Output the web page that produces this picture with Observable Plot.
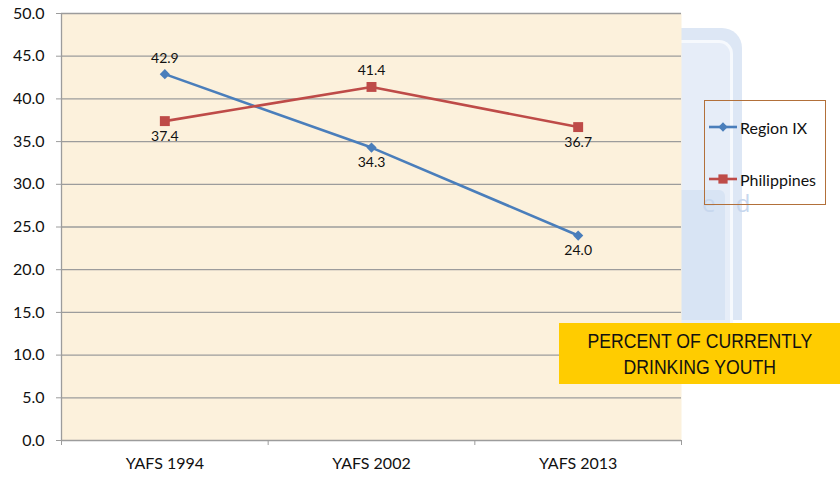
<!DOCTYPE html>
<html><head><meta charset="utf-8">
<script src="https://cdn.jsdelivr.net/npm/d3@7"></script>
<script src="https://cdn.jsdelivr.net/npm/@observablehq/plot@0.6"></script>
<style>
html,body{margin:0;padding:0;background:#fff;}
#wrap{position:relative;width:840px;height:477px;overflow:hidden;font-family:Lato,"Open Sans",sans-serif;}
#chart{position:absolute;left:0;top:0;z-index:1;}
.wm{position:absolute;left:670px;top:28px;width:72px;height:292px;background:#dde7f5;border-radius:0 20px 0 0;z-index:0;}
.wm-inner{position:absolute;left:670px;top:40px;width:60px;height:280px;border-right:3px solid #f6f9fd;border-top:3px solid #f6f9fd;border-radius:0 14px 0 0;background:#e6edf8;z-index:0;}
.wm-low{position:absolute;left:670px;top:190px;width:55px;height:130px;background:#d8e4f4;border-radius:0 6px 0 0;z-index:0;}
.wm-text{position:absolute;left:702px;top:186px;font:24px "Open Sans",sans-serif;color:#c7d7ee;letter-spacing:7px;z-index:0;}
.legend{position:absolute;left:704px;top:100px;width:120px;height:103px;border:1px solid #b2703a;z-index:2;}
.legend .item{position:absolute;left:4px;display:flex;align-items:center;font-size:16px;color:#111;}
.legend .item svg{margin-right:3px;}
.banner{position:absolute;left:559px;top:323px;width:281px;height:61px;background:#ffcc00;z-index:3;display:flex;align-items:center;justify-content:center;text-align:center;font-family:"Liberation Sans Narrow","Arial Narrow","Liberation Sans",Arial,sans-serif;font-size:21px;line-height:26px;color:#111;}
.banner span{display:inline-block;transform:scaleX(0.84);white-space:nowrap;}
</style></head><body>
<div id="wrap">
  <div class="wm"></div>
  <div class="wm-inner"></div>
  <div class="wm-low"></div>
  <div class="wm-text">e d</div>
  <div id="chart"></div>
  <div class="legend" id="legend"></div>
  <div class="banner"><span>PERCENT OF CURRENTLY<br>DRINKING YOUTH</span></div>
</div>
<script>
const surveys = ["YAFS 1994", "YAFS 2002", "YAFS 2013"];
const seriesNames = ["Region IX", "Philippines"];
const regionIX = [42.9, 34.3, 24.0];
const philippines = [37.4, 41.4, 36.7];
const regionIXLabelSide = ["above", "below", "below"];
const philippinesLabelSide = ["below", "above", "below"];
const yTicks = [0, 5, 10, 15, 20, 25, 30, 35, 40, 45, 50];
const colors = ["#4a7ebb", "#be4b48"];

const rows = [];
surveys.forEach((s, i) => {
  rows.push({i, series: seriesNames[0], value: regionIX[i], side: regionIXLabelSide[i]});
  rows.push({i, series: seriesNames[1], value: philippines[i], side: philippinesLabelSide[i]});
});
const boundaries = d3.range(surveys.length + 1).map(k => k - 0.5);

const chart = Plot.plot({
  width: 840,
  height: 477,
  marginLeft: 61,
  marginRight: 159,
  marginTop: 13,
  marginBottom: 37,
  style: {background: "transparent", fontFamily: "Lato, 'Open Sans', sans-serif", color: "#111"},
  x: {type: "linear", domain: [-0.5, surveys.length - 0.5], label: null},
  y: {domain: [0, 50], label: null},
  color: {domain: seriesNames, range: colors},
  marks: [
    Plot.frame({fill: "#fcf1dc", stroke: null}),
    Plot.ruleY(yTicks, {stroke: "#9c9c9c", strokeWidth: 1.3, strokeOpacity: 1}),
    Plot.ruleX([boundaries[0]], {stroke: "#9c9c9c", strokeWidth: 1.3}),
    Plot.axisY({ticks: yTicks, tickFormat: d => d.toFixed(1), tickSize: 5, tickPadding: 12, fontSize: 16, stroke: "#9c9c9c", fill: "#111", label: null}),
    Plot.axisX({ticks: boundaries, tickSize: 5, tickFormat: () => "", stroke: "#9c9c9c", label: null}),
    Plot.axisX({ticks: d3.range(surveys.length), tickSize: 0, tickPadding: 17, tickFormat: i => surveys[i], fontSize: 16, fill: "#111", label: null}),
    Plot.lineY(rows, {x: "i", y: "value", z: "series", stroke: "series", strokeWidth: 2.6}),
    Plot.dot(rows.filter(d => d.series === seriesNames[0]), {x: "i", y: "value", symbol: "diamond2", fill: "series", stroke: null, r: 4.6}),
    Plot.dot(rows.filter(d => d.series === seriesNames[1]), {x: "i", y: "value", symbol: "square", fill: "series", stroke: null, r: 5.6}),
    Plot.text(rows.filter(d => d.side === "above"), {x: "i", y: "value", text: d => d.value.toFixed(1), dy: -16, fontSize: 14, fill: "#111"}),
    Plot.text(rows.filter(d => d.side === "below"), {x: "i", y: "value", text: d => d.value.toFixed(1), dy: 15, fontSize: 14, fill: "#111"})
  ]
});
document.getElementById("chart").appendChild(chart);

// legend
const legend = document.getElementById("legend");
seriesNames.forEach((name, k) => {
  const item = document.createElement("div");
  item.className = "item";
  item.style.top = (k === 0 ? 16 : 68) + "px";
  const sym = d3.symbol(k === 0 ? d3.symbolDiamond2 : d3.symbolSquare, k === 0 ? 55 : 85)();
  item.innerHTML = `<svg width="28" height="20"><line x1="0" x2="28" y1="10" y2="10" stroke="${colors[k]}" stroke-width="2.6"/><path d="${sym}" transform="translate(14,10)" fill="${colors[k]}"/></svg><span>${name}</span>`;
  legend.appendChild(item);
});
</script>
</body></html>
